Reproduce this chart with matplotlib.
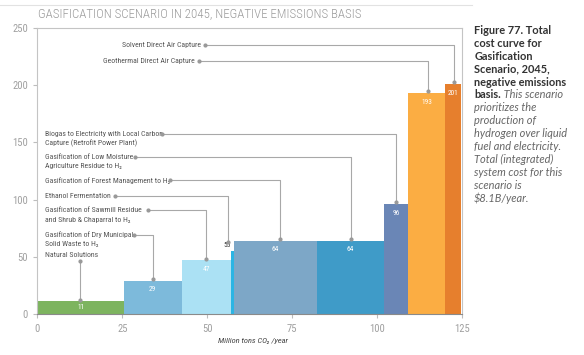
import matplotlib.pyplot as plt
from matplotlib.lines import Line2D
from matplotlib import font_manager

# bars in merit order (left to right)
categories = [
    "Natural Solutions",
    "Gasification of Dry Municipal\nSolid Waste to H\u2082",
    "Gasification of Sawmill Residue\nand Shrub & Chaparral to H\u2082",
    "Ethanol Fermentation",
    "Gasification of Forest Management to H\u2082",
    "Gasification of Low Moisture\nAgriculture Residue to H\u2082",
    "Biogas to Electricity with Local Carbon\nCapture (Retrofit Power Plant)",
    "Geothermal Direct Air Capture",
    "Solvent Direct Air Capture",
]
capacity = [25.4, 17.1, 14.4, 0.9, 24.6, 19.6, 7.1, 11.0, 4.7]  # Mt CO2/yr
cost = [11, 29, 47, 55, 64, 64, 96, 193, 201]  # $/t
bar_colors = ["#7db45f", "#7dbadb", "#abe1f4", "#2bb5e4", "#7da7c7",
              "#3f9bc8", "#6a86b6", "#fbad43", "#e67f2d"]

# callout layout: label y, text-end x, elbow x
label_y = [51.6, 69.3, 90.6, 103.4, 116.9, 137.0, 157.0, 221.2, 235.1]
label_end = [None, 28.4, 32.6, 22.8, 39.0, 28.7, 36.8, 47.5, 49.3]
elbow_x = [12.5, 34.1, 49.6, 56.1, 71.3, 92.4, 105.6, 114.9, 122.8]

caption_bold = ["Figure 77. Total", "cost curve for", "Gasification",
                "Scenario, 2045,", "negative emissions", "basis."]
caption_italic = [" This scenario", "prioritizes the", "production of",
                  "hydrogen over liquid", "fuel and electricity.",
                  "Total (integrated)", "system cost for this",
                  "scenario is", "$8.1B/year."]

# pick a narrow face if there is one, else shrink Liberation Sans
installed = {f.name for f in font_manager.fontManager.ttflist}
if "Liberation Sans Narrow" in installed:
    NARROW, FS = ["Liberation Sans Narrow", "DejaVu Sans"], 1.2
elif "Roboto Condensed" in installed:
    NARROW, FS = ["Roboto Condensed", "DejaVu Sans"], 1.1
else:
    NARROW, FS = ["Liberation Sans", "DejaVu Sans"], 1.0

LINE_C = "#a8a8a8"
TEXT_C = "#555555"
CAP_FONT = ["Lato", "DejaVu Sans"]

fig = plt.figure(figsize=(5.84, 3.55), dpi=100)
ax = fig.add_axes([0.0642, 0.1155, 0.7266, 0.8056])

lefts = []
x = 0
for w in capacity:
    lefts.append(x)
    x += w

ax.bar(lefts, cost, width=capacity, align="edge", color=bar_colors,
       edgecolor="none", zorder=2)

for i, (l, w, c) in enumerate(zip(lefts, capacity, cost)):
    if i == 3:
        ax.text(l + w / 2 - 1.5, c + 1.5, str(c), ha="center", va="bottom",
                fontsize=4.8 * FS, color="#333333", family=NARROW)
    elif i == 0:
        ax.text(l + w / 2, c / 2, str(c), ha="center", va="center",
                fontsize=4.8 * FS, color="white", family=NARROW)
    else:
        ax.annotate(str(c), (l + w / 2, c), xytext=(0, -4),
                    textcoords="offset points", ha="center", va="top",
                    fontsize=4.8 * FS, color="white", family=NARROW)

# callouts
for i, name in enumerate(categories):
    top = cost[i] + (8 if i == 3 else 1.5)
    y = label_y[i]
    if label_end[i] is None:
        ax.text(2.2, y, name, ha="left", va="center", fontsize=5.1 * FS,
                color=TEXT_C, family=NARROW)
        ax.plot([elbow_x[i], elbow_x[i]], [y - 5, top], color=LINE_C,
                lw=0.8, zorder=3)
        ax.plot([elbow_x[i], elbow_x[i]], [y - 5, top], "o", color="#999999",
                ms=2, zorder=3)
        continue
    lines = name.split("\n")
    if i >= 7:
        ax.text(label_end[i] - 1.2, y, lines[0], ha="right", va="center",
                fontsize=5.1 * FS, color=TEXT_C, family=NARROW)
    else:
        for k, ln in enumerate(lines):
            ax.text(2.2, y - k * 8, ln, ha="left", va="center",
                    fontsize=5.1 * FS, color=TEXT_C, family=NARROW)
    ax.plot([label_end[i], elbow_x[i], elbow_x[i]], [y, y, top],
            color=LINE_C, lw=0.8, zorder=3)
    ax.plot([label_end[i], elbow_x[i]], [y, top], "o", color="#999999",
            ms=2, zorder=3)

ax.set_xlim(0, 125)
ax.set_ylim(0, 250)
ax.set_xticks([0, 25, 50, 75, 100, 125])
ax.set_yticks([0, 50, 100, 150, 200, 250])
for s in ax.spines.values():
    s.set_color("#c4c4c4")
    s.set_linewidth(0.8)
ax.spines["bottom"].set_color("#8a8a8a")
ax.tick_params(colors="#bdbdbd", length=3, width=0.8, labelcolor="#a0a0a0",
               labelsize=7.0 * FS, pad=4)
for t in ax.get_xticklabels() + ax.get_yticklabels():
    t.set_family(NARROW)

ax.text(0.507, -0.085, "Million tons CO\u2082 /year", transform=ax.transAxes,
        ha="center", va="top", fontsize=5.5 * FS, style="italic",
        color="#444444", family=NARROW)

fig.text(0.065, 0.962, "GASIFICATION SCENARIO IN 2045, NEGATIVE EMISSIONS BASIS",
         ha="left", va="center", fontsize=8.4 * FS, color="#9a9a9a",
         weight="light", family=NARROW)
fig.add_artist(Line2D([0, 0.808], [0.986, 0.986], color="#e2e2e2", lw=0.8,
                      transform=fig.transFigure))

# caption on the right
cx, cy, step = 0.812, 0.915, 0.0365
t = None
for k, ln in enumerate(caption_bold):
    t = fig.text(cx, cy - k * step, ln, ha="left", va="center", fontsize=7.9,
                 weight="bold", color="#333333", family=CAP_FONT)
ax.annotate(caption_italic[0], xy=(1, 0.5), xycoords=t, ha="left",
            va="center", fontsize=7.9, style="italic", color="#666666",
            family=CAP_FONT, annotation_clip=False)
start = len(caption_bold)
for k, ln in enumerate(caption_italic[1:]):
    fig.text(cx, cy - (start + k) * step, ln, ha="left", va="center",
             fontsize=7.9, style="italic", color="#666666", family=CAP_FONT)

fig.savefig("out.png", dpi=100, facecolor="white")
